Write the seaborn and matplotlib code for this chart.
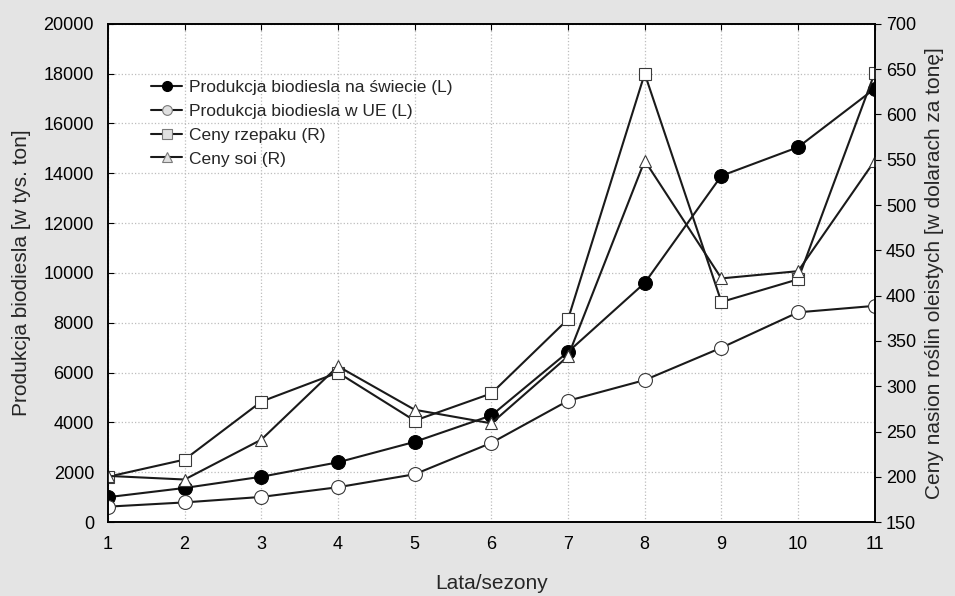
import numpy as np
import pandas as pd
import matplotlib
matplotlib.use("Agg")
import matplotlib.pyplot as plt
from matplotlib.lines import Line2D
import seaborn as sns

# data
lata = [1, 2, 3, 4, 5, 6, 7, 8, 9, 10, 11]
swiat = [1000, 1370, 1820, 2400, 3220, 4280, 6830, 9600, 13900, 15050, 17400]
ue = [620, 790, 1010, 1400, 1920, 3180, 4870, 5700, 7000, 8420, 8680]
rzepak = [200, 219, 283, 315, 262, 292, 374, 645, 393, 418, 646]
soja = [201, 197, 241, 322, 274, 259, 333, 549, 419, 427, 549]

etykiety = ["Produkcja biodiesla na świecie (L)", "Produkcja biodiesla w UE (L)",
            "Ceny rzepaku (R)", "Ceny soi (R)"]

sns.set_style("white")
plt.rcParams['font.family'] = ['Liberation Sans', 'DejaVu Sans']

bg = '#e4e4e4'
line_c = '#1a1a1a'
edge_c = '#3a3a3a'

fig = plt.figure(figsize=(9.55, 5.96), dpi=100, facecolor=bg)
ax = fig.add_axes([0.113, 0.124, 0.803, 0.836])
ax2 = ax.twinx()

df = pd.DataFrame({"x": lata, "swiat": swiat, "ue": ue, "rzepak": rzepak, "soja": soja})

styles = {
    "swiat": dict(marker='o', markersize=10, markerfacecolor='black', markeredgecolor='black'),
    "ue": dict(marker='o', markersize=10, markerfacecolor='white', markeredgecolor=edge_c, markeredgewidth=0.8),
    "rzepak": dict(marker='s', markersize=8.5, markerfacecolor='white', markeredgecolor=edge_c, markeredgewidth=0.8),
    "soja": dict(marker='^', markersize=9, markerfacecolor='white', markeredgecolor=edge_c, markeredgewidth=0.8),
}

for col, a in [("swiat", ax), ("ue", ax), ("rzepak", ax2), ("soja", ax2)]:
    sns.lineplot(data=df, x="x", y=col, ax=a, color=line_c, linewidth=1.5, **styles[col])

ax.set_xlim(1, 11)
ax.set_ylim(0, 20000)
ax2.set_ylim(150, 700)
ax.set_xticks(lata)
ax.set_yticks(np.arange(0, 20001, 2000))
ax2.set_yticks(np.arange(150, 701, 50))

ax.grid(True, linestyle=':', color='#bdbdbd', linewidth=0.9)
ax2.grid(False)

for s in ax.spines.values():
    s.set_color('black'); s.set_linewidth(1.2)
for s in ax2.spines.values():
    s.set_color('black'); s.set_linewidth(1.2)

ax.tick_params(axis='both', direction='in', length=4, labelsize=13, colors='black', top=True)
ax.tick_params(axis='x', pad=10)
ax.tick_params(axis='y', pad=10)
ax2.tick_params(axis='y', direction='out', length=4, labelsize=13, colors='black', pad=4)

ax.set_xlabel("Lata/sezony", fontsize=15, labelpad=15)
ax.set_ylabel("Produkcja biodiesla [w tys. ton]", fontsize=15, labelpad=9)
ax2.set_ylabel("Ceny nasion roślin oleistych [w dolarach za tonę]", fontsize=15, labelpad=6)

# legend handles: smaller, grey-filled markers as in the reference
leg_styles = [
    dict(marker='o', markersize=7, markerfacecolor='black', markeredgecolor='black'),
    dict(marker='o', markersize=7, markerfacecolor='#e0e0e0', markeredgecolor='#7a7a7a', markeredgewidth=0.8),
    dict(marker='s', markersize=6.5, markerfacecolor='#e0e0e0', markeredgecolor='#7a7a7a', markeredgewidth=0.8),
    dict(marker='^', markersize=7, markerfacecolor='#e0e0e0', markeredgecolor='#7a7a7a', markeredgewidth=0.8),
]
handles = [Line2D([], [], color=line_c, linewidth=1.5, **st) for st in leg_styles]
ax.legend(handles, etykiety, loc='upper left', bbox_to_anchor=(0.045, 0.905), frameon=False,
          fontsize=12.5, handlelength=1.8, handletextpad=0.4, labelspacing=0.5, borderpad=0)

fig.savefig("out.png", dpi=100, facecolor=bg)
